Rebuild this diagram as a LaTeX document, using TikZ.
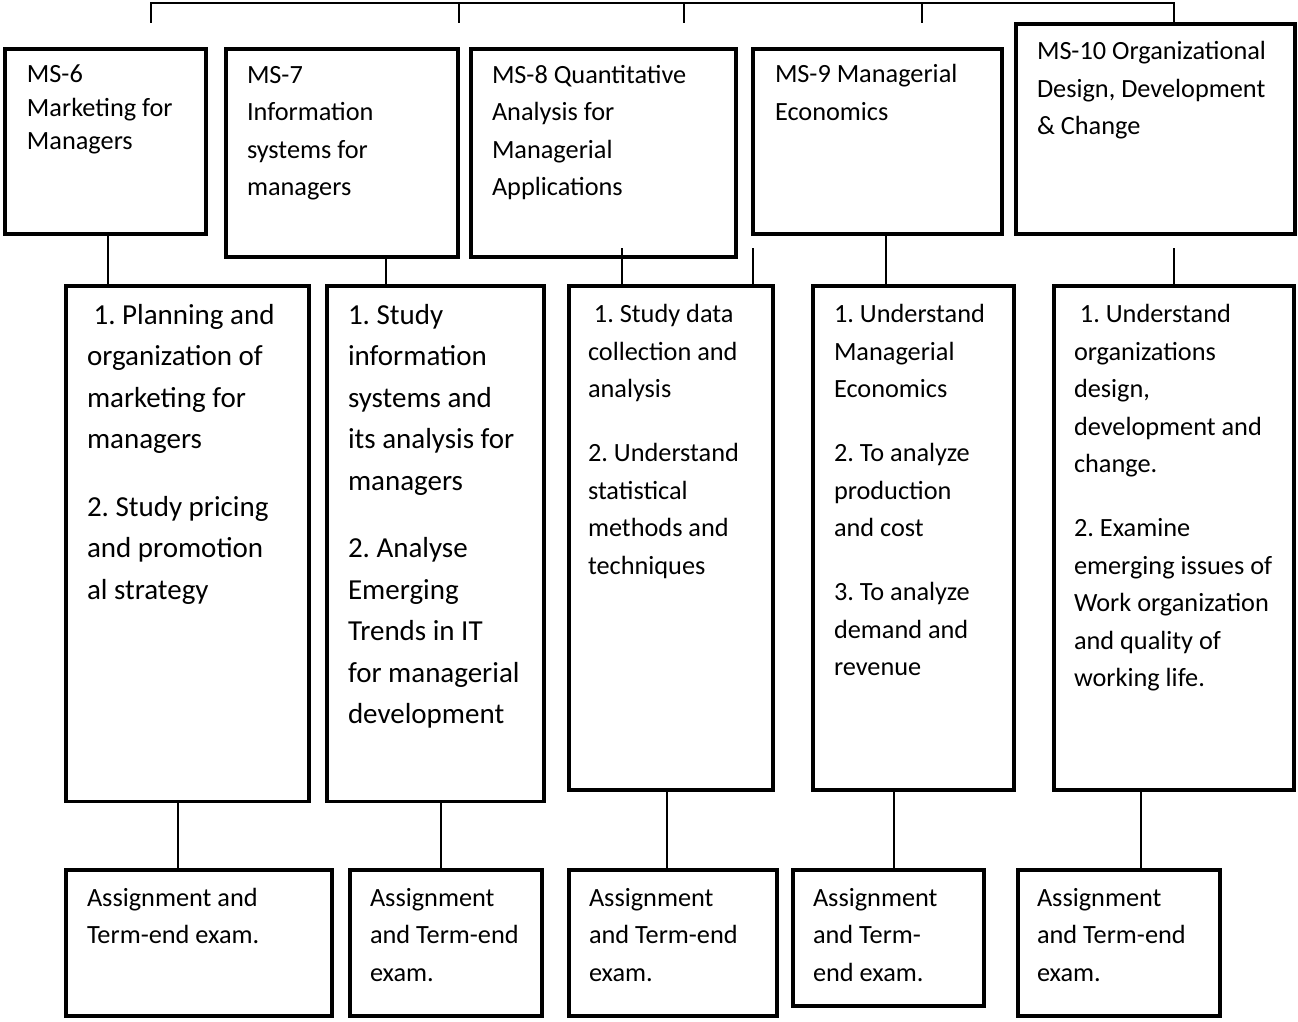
\documentclass[tikz,border=0pt]{standalone}
\usepackage{fontspec}
\setmainfont{Carlito}
\begin{document}
\frenchspacing
\begin{tikzpicture}[x=1pt,y=-1pt,
  box/.style={draw, rectangle, line width=3.8pt, inner sep=0pt, outer sep=0pt, anchor=north west},
  conn/.style={line width=1.6pt},
  txt/.style={anchor=north west, inner sep=0pt, outer sep=0pt, align=left, font=\fontsize{26.3}{37.5}\selectfont\frenchspacing},
  txtb/.style={anchor=north west, inner sep=0pt, outer sep=0pt, align=left, font=\fontsize{29}{41.5}\selectfont\frenchspacing},
  txtc/.style={anchor=north west, inner sep=0pt, outer sep=0pt, align=left, font=\fontsize{26.3}{33.5}\selectfont\frenchspacing}]
\useasboundingbox (0,0) rectangle (1298,1022);

% top-level boxes
\node[box, minimum width=201pt, minimum height=185pt] (ms6) at (5,49) {};
\node[box, minimum width=232pt, minimum height=208pt] (ms7) at (226,49) {};
\node[box, minimum width=265pt, minimum height=208pt] (ms8) at (471,49) {};
\node[box, minimum width=249pt, minimum height=185pt] (ms9) at (753,49) {};
\node[box, minimum width=279pt, minimum height=210pt] (ms10) at (1016,24) {};

% objective boxes
\node[box, minimum width=243pt, minimum height=515.5pt] (b1) at (66,286) {};
\node[box, minimum width=217pt, minimum height=515.5pt] (b2) at (327,286) {};
\node[box, minimum width=204pt, minimum height=504pt] (b3) at (569,286) {};
\node[box, minimum width=201pt, minimum height=504pt] (b4) at (813,286) {};
\node[box, minimum width=240pt, minimum height=504pt] (b5) at (1054,286) {};

% evaluation boxes
\node[box, minimum width=266pt, minimum height=146pt] (l1) at (66,870) {};
\node[box, minimum width=192pt, minimum height=146pt] (l2) at (350,870) {};
\node[box, minimum width=208pt, minimum height=146pt] (l3) at (569,870) {};
\node[box, minimum width=191pt, minimum height=136pt] (l4) at (793,870) {};
\node[box, minimum width=202pt, minimum height=146pt] (l5) at (1018,870) {};

% texts
\node[txtc] (t6) at (27,59.55) {\strut MS-6\\Marketing for\\Managers};
\node[txt] (t7) at (247,56.75) {\strut MS-7\\Information\\systems for\\managers};
\node[txt] (t8) at (492,56.75) {\strut MS-8 Quantitative\\Analysis for\\Managerial\\Applications};
\node[txt] (t9) at (775,56.75) {\strut MS-9 Managerial\\Economics};
\node[txt] (t10) at (1037,33.75) {\strut MS-10 Organizational\\Design, Development\\\& Change};

\node[txtb] (tb1) at (87,294.95) {\strut\hspace*{0.226em}1. Planning and\\organization of\\marketing for\\managers\\[26pt]2. Study pricing\\and promotion\\al strategy};
\node[txtb] (tb2) at (348,294.95) {\strut 1. Study\\information\\systems and\\its analysis for\\managers\\[26pt]2. Analyse\\Emerging\\Trends in IT\\for managerial\\development};
\node[txt] (tb3) at (588,296.45) {\strut\hspace*{0.226em}1. Study data\\collection and\\analysis\\[26.5pt]2. Understand\\statistical\\methods and\\techniques};
\node[txt] (tb4) at (834,296.45) {\strut 1. Understand\\Managerial\\Economics\\[26.5pt]2. To analyze\\production\\and cost\\[26.5pt]3. To analyze\\demand and\\revenue};
\node[txt] (tb5) at (1074,296.45) {\strut\hspace*{0.226em}1. Understand\\organizations\\design,\\development and\\change.\\[26.5pt]2. Examine\\emerging issues of\\Work organization\\and quality of\\working life.};

\node[txt] (tl1) at (87,879.75) {\strut Assignment and\\Term-end exam.};
\node[txt] (tl2) at (370,879.75) {\strut Assignment\\and Term-end\\exam.};
\node[txt] (tl3) at (589,879.75) {\strut Assignment\\and Term-end\\exam.};
\node[txt] (tl4) at (813,879.75) {\strut Assignment\\and Term-\\end exam.};
\node[txt] (tl5) at (1037,879.75) {\strut Assignment\\and Term-end\\exam.};

% top bracket
\coordinate (k1) at (151,23);
\coordinate (k2) at (459,23);
\coordinate (k3) at (684,23);
\coordinate (k4) at (922,23);
\coordinate (tl) at (151,3);
\coordinate (tr) at (1174,3);
\draw[conn] (k1) -- (tl) -- (tr) -- (tr |- ms10.north);
\draw[conn] (k2) -- (k2 |- tl);
\draw[conn] (k3) -- (k3 |- tl);
\draw[conn] (k4) -- (k4 |- tl);

% level 1 to level 2
\coordinate (c1) at (108,0);
\coordinate (c2) at (386,0);
\coordinate (c4) at (886,0);
\coordinate (s8) at (622,248);
\coordinate (s9) at (753,248);
\coordinate (s10) at (1174,248);
\draw[conn] (c1 |- ms6.south) -- (c1 |- b1.north);
\draw[conn] (c2 |- ms7.south) -- (c2 |- b2.north);
\draw[conn] (s8) -- (s8 |- b3.north);
\draw[conn] (s9) -- (s9 |- b3.north);
\draw[conn] (c4 |- ms9.south) -- (c4 |- b4.north);
\draw[conn] (s10) -- (s10 |- b5.north);

% level 2 to level 3
\coordinate (d1) at (178,0);
\coordinate (d2) at (441,0);
\coordinate (d3) at (667,0);
\coordinate (d4) at (894,0);
\coordinate (d5) at (1141,0);
\draw[conn] (d1 |- b1.south) -- (d1 |- l1.north);
\draw[conn] (d2 |- b2.south) -- (d2 |- l2.north);
\draw[conn] (d3 |- b3.south) -- (d3 |- l3.north);
\draw[conn] (d4 |- b4.south) -- (d4 |- l4.north);
\draw[conn] (d5 |- b5.south) -- (d5 |- l5.north);
\end{tikzpicture}
\end{document}
